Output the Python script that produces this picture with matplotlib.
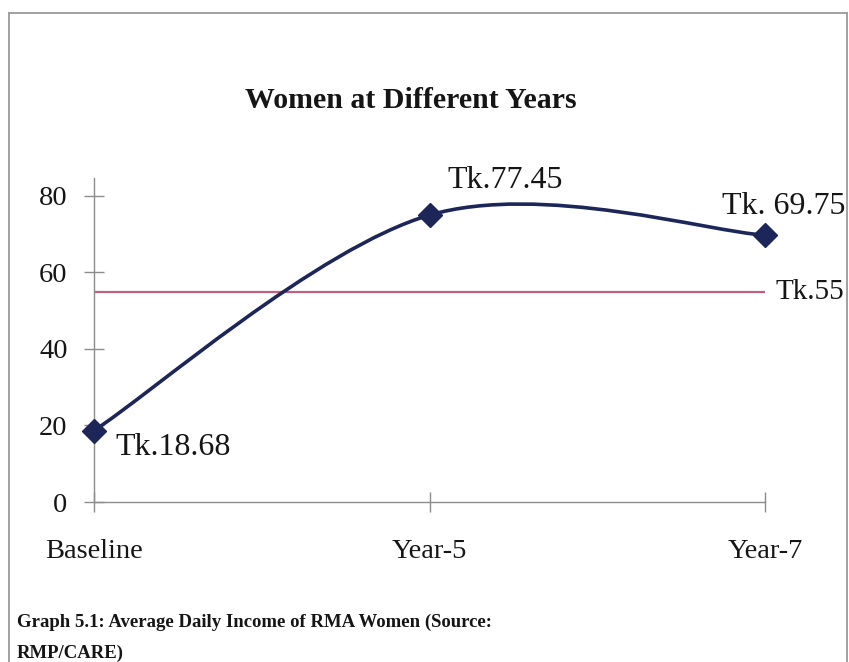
"""Graph 5.1: average daily income of RMA women (baseline vs year-5 vs year-7)."""

import matplotlib

matplotlib.use("Agg")
import matplotlib.pyplot as plt
import numpy as np
from matplotlib.lines import Line2D
from matplotlib.patches import PathPatch
from matplotlib.path import Path

categories = ["Baseline", "Year-5", "Year-7"]
income = [18.68, 75.0, 69.75]
point_labels = ["Tk.18.68", "Tk.77.45", "Tk. 69.75"]
threshold = 55
threshold_label = "Tk.55"
y_ticks = [0, 20, 40, 60, 80]

TITLE = "Women at Different Years"
CAPTION = "Graph 5.1: Average Daily Income of RMA Women (Source:\nRMP/CARE)"

W, H = 849, 662
NAVY = "#1d2658"
ROSE = "#c0607e"
GREY = "#8c8c8c"
SERIF = ["Liberation Serif", "DejaVu Serif"]


def px(v):
    # pixels -> points at dpi 100
    return v * 72 / 100


def smooth_path(xs, ys):
    """Excel-style smoothed line: cubic Bezier through the points (Catmull-Rom tangents)."""
    pts = np.column_stack([xs, ys]).astype(float)
    n = len(pts)
    verts = [pts[0]]
    codes = [Path.MOVETO]
    for i in range(n - 1):
        p_prev = pts[max(i - 1, 0)]
        p_next2 = pts[min(i + 2, n - 1)]
        c1 = pts[i] + (pts[i + 1] - p_prev) / 6
        c2 = pts[i + 1] - (p_next2 - pts[i]) / 6
        verts += [c1, c2, pts[i + 1]]
        codes += [Path.CURVE4] * 3
    return Path(verts, codes)


def main():
    plt.rcParams["font.family"] = SERIF
    fig = plt.figure(figsize=(W / 100, H / 100), dpi=100)

    # page frame around the chart
    fx = lambda v: v / W
    fy = lambda v: 1 - v / H
    for xs, ys in [((9, 9), (13, H)), ((9, 847), (13, 13)), ((847, 847), (13, H))]:
        fig.add_artist(Line2D([fx(a) for a in xs], [fy(b) for b in ys], color="#9a9a9a", lw=1.3))

    left, right, top, bottom = 94, 765, 178, 502
    ax = fig.add_axes([left / W, 1 - bottom / H, (right - left) / W, (bottom - top) / H])
    x = np.arange(len(categories))

    ax.axhline(threshold, color=ROSE, lw=1.6, zorder=2)
    ax.add_patch(PathPatch(smooth_path(x, income), facecolor="none", edgecolor=NAVY, lw=2.6, zorder=3))
    ax.plot(x, income, linestyle="none", marker="D", ms=12, color=NAVY, zorder=4, clip_on=False)

    ax.set_xlim(0, len(categories) - 1)
    ax.set_ylim(0, 84.7)
    ax.set_xticks(x, categories)
    ax.set_yticks(y_ticks)

    for side in ("top", "right"):
        ax.spines[side].set_visible(False)
    for side in ("left", "bottom"):
        ax.spines[side].set_color(GREY)
        ax.spines[side].set_linewidth(1.0)
    ax.tick_params(axis="both", direction="inout", length=14, width=1.0, color=GREY, labelsize=20.5, labelcolor="#151515")
    ax.tick_params(axis="x", pad=20)
    ax.tick_params(axis="y", pad=12)

    offsets = [(21, -17), (18, 35), (-43, 29)]
    for xi, yi, lab, (dx, dy) in zip(x, income, point_labels, offsets):
        ax.annotate(lab, (xi, yi), xytext=(px(dx), px(dy)), textcoords="offset points",
                    ha="left", va="center", fontsize=23, color="#151515", zorder=5)
    ax.annotate(threshold_label, (x[-1], threshold), xytext=(px(10), 0), textcoords="offset points",
                ha="left", va="center", fontsize=21, color="#151515", annotation_clip=False)

    fig.text(fx(411), fy(100), TITLE, ha="center", va="center", fontsize=21.5, fontweight="bold", color="#151515")
    fig.text(fx(17), fy(614), CAPTION, ha="left", va="top", fontsize=13.5, fontweight="bold",
             color="#151515", linespacing=2.0)

    fig.savefig("out.png", dpi=100)
    plt.close(fig)


if __name__ == "__main__":
    main()
